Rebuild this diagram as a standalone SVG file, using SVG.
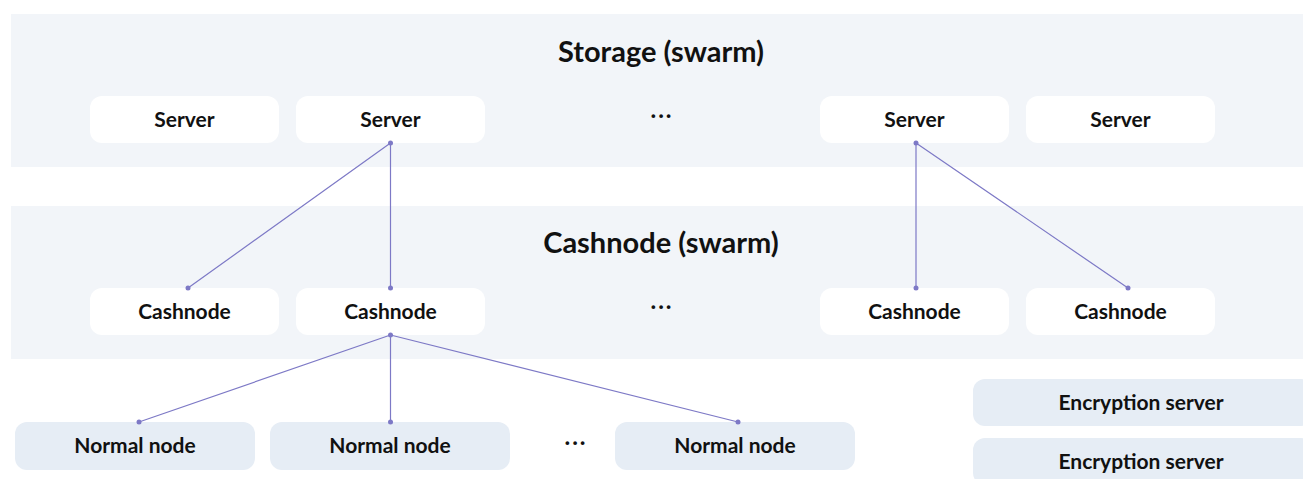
<svg xmlns="http://www.w3.org/2000/svg" width="1303" height="479" viewBox="0 0 1303 479">
  <defs>
    <style>
      .panel { fill: #f2f5f9; }
      .box { fill: #ffffff; }
      .soft { fill: #e6edf5; }
      .title { font-family: Lato, "Liberation Sans", sans-serif; font-weight: 700; font-size: 29px; fill: #111; text-anchor: middle; }
      .label { font-family: Lato, "Liberation Sans", sans-serif; font-weight: 700; font-size: 21px; fill: #111; text-anchor: middle; }
      .dots { font-family: Lato, "Liberation Sans", sans-serif; font-weight: 700; font-size: 24px; fill: #111; text-anchor: middle; letter-spacing: 2px; }
      .link { stroke: #7d79c6; stroke-width: 1.2; fill: none; }
      .end { fill: #7d79c6; }
    </style>
  </defs>

  <!-- swarm bands -->
  <g id="storage-swarm">
    <rect class="panel" x="11" y="14" width="1292" height="153"/>
    <text class="title" x="661" y="62">Storage (swarm)</text>
  </g>
  <g id="cashnode-swarm">
    <rect class="panel" x="11" y="206" width="1292" height="153"/>
    <text class="title" x="661" y="253">Cashnode (swarm)</text>
  </g>

  <!-- storage servers -->
  <g id="server-1"><rect class="box" x="90" y="96" width="189" height="47" rx="12"/><text class="label" x="184.5" y="127">Server</text></g>
  <g id="server-2"><rect class="box" x="296" y="96" width="189" height="47" rx="12"/><text class="label" x="390.5" y="127">Server</text></g>
  <g id="server-3"><rect class="box" x="820" y="96" width="189" height="47" rx="12"/><text class="label" x="914.5" y="127">Server</text></g>
  <g id="server-4"><rect class="box" x="1026" y="96" width="189" height="47" rx="12"/><text class="label" x="1120.5" y="127">Server</text></g>
  <g id="server-more"><text class="dots" x="662" y="118">...</text></g>

  <!-- cashnodes -->
  <g id="cashnode-1"><rect class="box" x="90" y="288" width="189" height="47" rx="12"/><text class="label" x="184.5" y="319">Cashnode</text></g>
  <g id="cashnode-2"><rect class="box" x="296" y="288" width="189" height="47" rx="12"/><text class="label" x="390.5" y="319">Cashnode</text></g>
  <g id="cashnode-3"><rect class="box" x="820" y="288" width="189" height="47" rx="12"/><text class="label" x="914.5" y="319">Cashnode</text></g>
  <g id="cashnode-4"><rect class="box" x="1026" y="288" width="189" height="47" rx="12"/><text class="label" x="1120.5" y="319">Cashnode</text></g>
  <g id="cashnode-more"><text class="dots" x="662" y="309">...</text></g>

  <!-- normal nodes -->
  <g id="normal-1"><rect class="soft" x="15" y="422" width="240" height="48" rx="12"/><text class="label" x="135" y="453">Normal node</text></g>
  <g id="normal-2"><rect class="soft" x="270" y="422" width="240" height="48" rx="12"/><text class="label" x="390" y="453">Normal node</text></g>
  <g id="normal-3"><rect class="soft" x="615" y="422" width="240" height="48" rx="12"/><text class="label" x="735" y="453">Normal node</text></g>
  <g id="normal-more"><text class="dots" x="576" y="445">...</text></g>

  <!-- encryption servers -->
  <g id="encryption-1"><rect class="soft" x="973" y="379" width="340" height="47" rx="12"/><text class="label" x="1141" y="410">Encryption server</text></g>
  <g id="encryption-2"><rect class="soft" x="973" y="438" width="340" height="47" rx="12"/><text class="label" x="1141" y="469">Encryption server</text></g>

  <!-- connectors -->
  <g id="connectors">
    <path class="link" d="M390.5 143 L188 288 M390.5 143 V288 M916 143 V288 M916 143 L1128 288 M390.5 335 L139 422 M390.5 335 V422 M390.5 335 L738 422"/>
    <circle class="end" cx="390.5" cy="143" r="2.5"/>
    <circle class="end" cx="916" cy="143" r="2.5"/>
    <circle class="end" cx="188" cy="288" r="2.5"/>
    <circle class="end" cx="390.5" cy="288" r="2.5"/>
    <circle class="end" cx="916" cy="288" r="2.5"/>
    <circle class="end" cx="1128" cy="288" r="2.5"/>
    <circle class="end" cx="390.5" cy="335" r="2.5"/>
    <circle class="end" cx="139" cy="422" r="2.5"/>
    <circle class="end" cx="390.5" cy="422" r="2.5"/>
    <circle class="end" cx="738" cy="422" r="2.5"/>
  </g>
</svg>
